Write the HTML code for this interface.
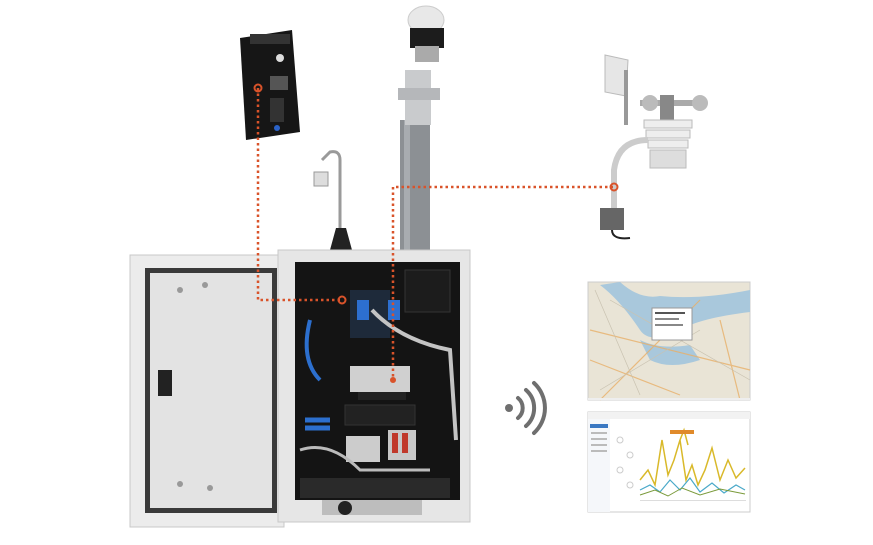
<!DOCTYPE html>
<html><head><meta charset="utf-8"><style>
html,body{margin:0;padding:0;background:#fff;}
body{width:873px;height:540px;position:relative;overflow:hidden;font-family:"Liberation Sans",sans-serif;}
</style></head><body>
<svg width="873" height="540" viewBox="0 0 873 540" xmlns="http://www.w3.org/2000/svg">
<!-- pole & sensor -->
<rect x="400" y="120" width="30" height="135" fill="#8c9094"/>
<rect x="404" y="120" width="6" height="135" fill="#a8acb0"/>
<rect x="405" y="70" width="26" height="55" fill="#c9cbcd"/>
<rect x="398" y="88" width="42" height="12" fill="#b5b7ba"/>
<ellipse cx="426" cy="20" rx="18" ry="14" fill="#e8e8e8" stroke="#ccc"/>
<rect x="410" y="28" width="34" height="20" fill="#1c1c1c"/>
<rect x="415" y="46" width="24" height="16" fill="#aaa"/>
<!-- gooseneck -->
<path d="M340 240 L340 160 Q340 150 330 152 L322 160" stroke="#9a9a9a" stroke-width="3" fill="none"/>
<rect x="314" y="172" width="14" height="14" fill="#ddd" stroke="#999"/>
<path d="M330 250 L336 228 L346 228 L352 250 Z" fill="#222"/>
<!-- top-left device -->
<path d="M240 38 L292 30 L300 132 L246 140 Z" fill="#161616"/>
<rect x="250" y="34" width="40" height="10" fill="#333"/>
<circle cx="280" cy="58" r="4" fill="#ddd"/>
<rect x="270" y="76" width="18" height="14" fill="#555"/>
<rect x="270" y="98" width="14" height="24" fill="#333"/>
<circle cx="277" cy="128" r="3" fill="#2a62c8"/>
<!-- weather station -->
<path d="M605 55 L628 60 L626 96 L605 92 Z" fill="#e6e6e6" stroke="#bbb"/>
<rect x="624" y="70" width="4" height="55" fill="#999"/>
<rect x="640" y="100" width="60" height="6" fill="#aaa"/>
<ellipse cx="650" cy="103" rx="8" ry="8" fill="#bbb"/>
<ellipse cx="700" cy="103" rx="8" ry="8" fill="#bbb"/>
<rect x="660" y="95" width="14" height="28" fill="#888"/>
<rect x="644" y="120" width="48" height="8" fill="#eee" stroke="#bbb"/>
<rect x="646" y="130" width="44" height="8" fill="#eee" stroke="#bbb"/>
<rect x="648" y="140" width="40" height="8" fill="#eee" stroke="#bbb"/>
<rect x="650" y="150" width="36" height="18" fill="#ddd" stroke="#bbb"/>
<path d="M648 140 Q618 140 614 170 L614 215" stroke="#ccc" stroke-width="6" fill="none"/>
<rect x="600" y="208" width="24" height="22" fill="#666"/>
<path d="M612 230 Q612 240 630 238" stroke="#222" stroke-width="2" fill="none"/>
<!-- cabinet door -->
<rect x="130" y="255" width="154" height="272" fill="#ececec" stroke="#c8c8c8"/>
<rect x="145" y="268" width="132" height="245" fill="#3a3a3a"/>
<rect x="150" y="273" width="122" height="235" fill="#e3e3e3"/>
<rect x="158" y="370" width="14" height="26" fill="#222"/>
<circle cx="180" cy="290" r="3" fill="#999"/><circle cx="205" cy="285" r="3" fill="#999"/>
<circle cx="180" cy="484" r="3" fill="#999"/><circle cx="210" cy="488" r="3" fill="#999"/>
<!-- cabinet body -->
<rect x="278" y="250" width="192" height="272" fill="#e6e6e6" stroke="#c8c8c8"/>
<rect x="295" y="262" width="165" height="238" fill="#141414"/>
<rect x="350" y="290" width="40" height="48" fill="#1e2a3a"/>
<rect x="357" y="300" width="12" height="20" fill="#2d6fd0"/>
<rect x="388" y="300" width="12" height="20" fill="#2d6fd0"/>
<rect x="405" y="270" width="45" height="42" fill="#1c1c1c" stroke="#333"/>
<rect x="350" y="366" width="60" height="26" fill="#d0d0d0"/>
<rect x="358" y="392" width="48" height="8" fill="#222"/>
<rect x="345" y="405" width="70" height="20" fill="#222" stroke="#333"/>
<rect x="388" y="430" width="28" height="30" fill="#c8c8c8"/>
<rect x="392" y="433" width="6" height="20" fill="#c0392b"/>
<rect x="402" y="433" width="6" height="20" fill="#c0392b"/>
<rect x="346" y="436" width="34" height="26" fill="#ccc"/>
<path d="M372 310 Q400 340 450 350 L456 440" stroke="#c4c4c4" stroke-width="4" fill="none"/>
<path d="M310 320 Q300 360 320 380" stroke="#2c6fce" stroke-width="4" fill="none"/>
<path d="M305 420 L330 420 M305 428 L330 428" stroke="#2c6fce" stroke-width="5"/>
<path d="M300 450 Q330 440 360 470 L430 470" stroke="#bbb" stroke-width="3" fill="none"/>
<rect x="300" y="478" width="150" height="20" fill="#2a2a2a"/>
<rect x="322" y="500" width="100" height="15" fill="#bdbdbd"/>
<circle cx="345" cy="508" r="7" fill="#222"/>
<!-- dotted connectors -->
<g stroke="#d9532a" stroke-width="2.5" stroke-dasharray="2.5 3" fill="none">
<path d="M258 88 L258 300 L343 300"/>
<path d="M613 187 L393 187 L393 380"/>
</g>
<circle cx="258" cy="88" r="3.5" fill="none" stroke="#d9532a" stroke-width="2"/>
<circle cx="342" cy="300" r="3.5" fill="none" stroke="#d9532a" stroke-width="2"/>
<circle cx="614" cy="187" r="3.5" fill="none" stroke="#d9532a" stroke-width="2"/>
<circle cx="393" cy="380" r="3" fill="#d9532a"/>
<!-- wifi -->
<circle cx="509" cy="408" r="4" fill="#6f6f6f"/>
<g stroke="#6f6f6f" stroke-width="4" fill="none" stroke-linecap="round">
<path d="M518 398 A13 13 0 0 1 518 418"/>
<path d="M526 390 A24 24 0 0 1 526 426"/>
<path d="M534 383 A34 34 0 0 1 534 433"/>
</g>
<!-- map -->
<rect x="588" y="282" width="162" height="118" fill="#e9e4d6" stroke="#ccc"/>
<path d="M620 282 Q640 300 660 296 Q700 300 750 290 L750 312 Q700 318 680 330 Q650 345 640 330 Q620 300 600 285 Z" fill="#a9c8dc"/>
<path d="M640 340 Q660 350 690 345 L700 360 Q670 370 650 360 Z" fill="#a9c8dc"/>
<g stroke="#e8b06a" stroke-width="1.2" fill="none" opacity="0.8">
<path d="M590 330 L750 370"/><path d="M600 400 L700 300"/><path d="M590 360 L680 395"/><path d="M720 320 L740 400"/>
</g>
<g stroke="#c9c2b0" stroke-width="0.7"><path d="M595 290 L640 395"/><path d="M610 300 L750 380"/><path d="M700 330 L600 390"/></g>
<rect x="652" y="308" width="40" height="32" fill="#fff" stroke="#999"/>
<rect x="655" y="312" width="30" height="2" fill="#555"/><rect x="655" y="318" width="24" height="2" fill="#888"/><rect x="655" y="324" width="28" height="2" fill="#888"/>
<rect x="588" y="398" width="162" height="2" fill="#eee"/>
<!-- chart -->
<rect x="588" y="412" width="162" height="100" fill="#fff" stroke="#ccc"/>
<rect x="588" y="412" width="162" height="7" fill="#f2f2f2"/>
<rect x="588" y="419" width="22" height="93" fill="#f5f7fa"/>
<rect x="590" y="424" width="18" height="4" fill="#3a78c2"/>
<g fill="#bbb"><rect x="591" y="432" width="16" height="2"/><rect x="591" y="438" width="16" height="2"/><rect x="591" y="444" width="16" height="2"/><rect x="591" y="450" width="16" height="2"/></g>
<g fill="none" stroke="#ccc"><circle cx="620" cy="440" r="3"/><circle cx="630" cy="455" r="3"/><circle cx="620" cy="470" r="3"/><circle cx="630" cy="485" r="3"/></g>
<path d="M640 480 L648 470 L655 485 L662 440 L668 475 L674 460 L680 440 L686 480 L692 465 L698 485 L705 470 L712 448 L720 480 L728 460 L736 478 L745 468" stroke="#d9b92a" stroke-width="1.5" fill="none"/>
<path d="M640 490 L650 485 L660 492 L670 480 L680 490 L690 478 L700 492 L712 483 L724 493 L736 485 L745 490" stroke="#4aa9c9" stroke-width="1.2" fill="none"/>
<path d="M640 495 L655 490 L668 496 L682 488 L700 495 L720 489 L745 494" stroke="#7a9a3a" stroke-width="1" fill="none"/>
<path d="M680 440 L684 430 L688 445" stroke="#d9b92a" stroke-width="1.5" fill="none"/>
<rect x="670" y="430" width="24" height="4" fill="#e08a2a"/>
<rect x="640" y="500" width="106" height="1" fill="#ddd"/>
</svg>
</body></html>
